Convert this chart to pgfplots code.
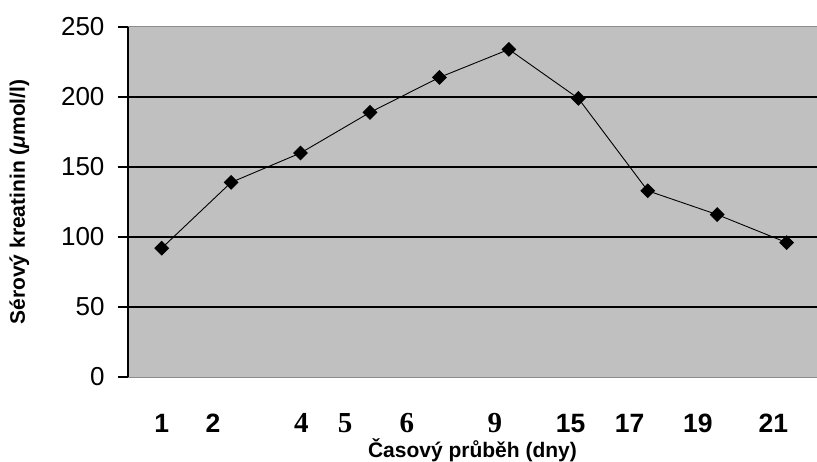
\documentclass[border=0pt]{standalone}
\usepackage{fontspec}
\setmainfont{Liberation Sans}
\newfontfamily\serifb{Liberation Serif}
\usepackage{pgfplots}
\pgfplotsset{compat=1.18}
\definecolor{plotgray}{HTML}{C0C0C0}
\definecolor{bordergray}{HTML}{8C8C8C}
\newcommand\xl[1]{{\fontsize{26.5}{30}\selectfont\bfseries #1}}
\newcommand\xs[1]{{\fontsize{29}{32}\selectfont\serifb\bfseries #1}}
\begin{document}
\begin{tikzpicture}
\useasboundingbox (0,0) rectangle (817pt,461pt);
\begin{axis}[
  at={(128pt,84pt)}, anchor=south west,
  scale only axis, width=689pt, height=350pt,
  xmin=-0.485, xmax=9.437, ymin=0, ymax=250,
  axis background/.style={fill=plotgray},
  axis lines*=left,
  x axis line style={bordergray, line width=1pt, -},
  y axis line style={black, line width=1.5pt, -},
  xtick={0,0.74,2.01,2.64,3.53,4.80,5.89,6.74,7.72,8.81},
  xticklabels={\xl{1},\xl{2},\xs{4},\xs{5},\xs{6},\xs{9},\xl{15},\xl{17},\xl{19},\xl{21}},
  xtick style={draw=none},
  xticklabel style={anchor=base, yshift=-45pt},
  ytick={0,50,...,250},
  ytick style={black, line width=1.5pt},
  tick align=outside, major tick length=10pt,
  yticklabel style={font=\fontsize{26}{30}\selectfont, anchor=east, xshift=-10pt},
  /pgf/number format/assume math mode=true,
  extra y ticks={50,100,150,200}, extra y tick labels={},
  extra y tick style={grid=major},
  major grid style={black, line width=1.5pt},
  xlabel={Časový průběh (dny)},
  ylabel={Sérový kreatinin (\textit{μ}mol/l)},
  xlabel style={at={(axis description cs:0.5,-0.2286)}, anchor=base, font=\fontsize{21}{25}\selectfont\bfseries},
  ylabel style={at={(axis description cs:-0.1495,0.5)}, anchor=base, font=\fontsize{21}{25}\selectfont\bfseries},
  clip=false,
]
\addplot[black, line width=0.9pt, mark=square*, mark size=4.8pt, mark options={rotate=45}]
  coordinates {(0,92)(1,139)(2,160)(3,189)(4,214)(5,234)(6,199)(7,133)(8,116)(9,96)};
\draw[bordergray, line width=1pt] (rel axis cs:0,1) -- (rel axis cs:1,1);
\end{axis}
\end{tikzpicture}
\end{document}
